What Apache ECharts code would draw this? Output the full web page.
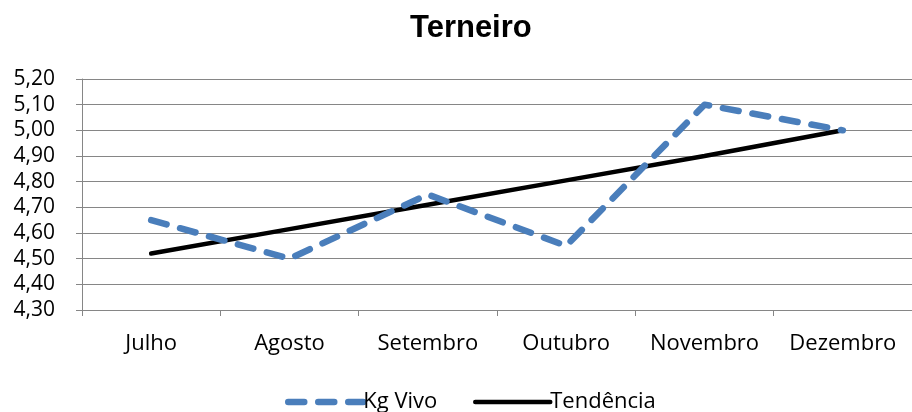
<!DOCTYPE html>
<html>
<head>
<meta charset="utf-8">
<script src="https://cdn.jsdelivr.net/npm/echarts@6/dist/echarts.min.js"></script>
<style>
html,body{margin:0;padding:0;background:#fff;}
#chart{width:912px;height:412px;}
</style>
</head>
<body>
<div id="chart"></div>
<script>
var categories = ['Julho', 'Agosto', 'Setembro', 'Outubro', 'Novembro', 'Dezembro'];
var kgVivo = [4.65, 4.50, 4.75, 4.55, 5.10, 5.00];
var tendencia = [4.52, 4.615, 4.71, 4.805, 4.90, 5.00];
var yTicks = { min: 4.3, max: 5.2, interval: 0.1 };

var chart = echarts.init(document.getElementById('chart'));
var font = '"Open Sans", Lato, sans-serif';
var blueLine = { color: '#4A7EBB', width: 6.5, type: [16, 14], cap: 'round', join: 'round' };
var blackLine = { color: '#000', width: 4.5, type: 'solid', cap: 'round' };
function legendAt(left, name, ls) {
  return {
    left: left,
    top: 386,
    itemWidth: 75,
    itemHeight: 12,
    itemStyle: { opacity: 0 },
    textStyle: { fontFamily: font, fontSize: 22, color: '#000', padding: [0, 0, 0, -5] },
    data: [{ name: name, lineStyle: ls }]
  };
}
chart.setOption({
  animation: false,
  backgroundColor: '#fff',
  title: {
    text: 'Terneiro',
    left: 405,
    top: 8,
    textStyle: { fontFamily: '"Liberation Sans", Arial, sans-serif', fontWeight: 'bold', fontSize: 31, color: '#000' }
  },
  legend: [
    legendAt(280, 'Kg Vivo', blueLine),
    legendAt(468, 'Tendência', blackLine)
  ],
  grid: { left: 82, top: 79, width: 831, height: 231, containLabel: false },
  xAxis: {
    type: 'category',
    data: categories,
    boundaryGap: true,
    axisLine: { lineStyle: { color: '#868686', width: 1 } },
    axisTick: { show: true, interval: 0, length: 6, alignWithLabel: false, lineStyle: { color: '#868686' } },
    axisLabel: { interval: 0, color: '#000', fontFamily: font, fontSize: 22, margin: 23 },
    splitLine: { show: false }
  },
  yAxis: {
    type: 'value',
    min: yTicks.min,
    max: yTicks.max,
    interval: yTicks.interval,
    axisLine: { show: true, lineStyle: { color: '#868686', width: 1 } },
    axisTick: { show: true, length: 6, inside: false, lineStyle: { color: '#868686' } },
    axisLabel: {
      color: '#000', fontFamily: font, fontSize: 21, margin: 27,
      formatter: function (v) { return v.toFixed(2).replace('.', ','); }
    },
    splitLine: { show: true, lineStyle: { color: '#868686', width: 1 } }
  },
  series: [
    {
      name: 'Kg Vivo',
      type: 'line',
      data: kgVivo,
      symbol: 'none',
      color: '#4A7EBB',
      lineStyle: blueLine,
      z: 3
    },
    {
      name: 'Tendência',
      type: 'line',
      data: tendencia,
      symbol: 'none',
      color: '#000',
      lineStyle: blackLine,
      z: 2
    }
  ]
});
</script>
</body>
</html>
